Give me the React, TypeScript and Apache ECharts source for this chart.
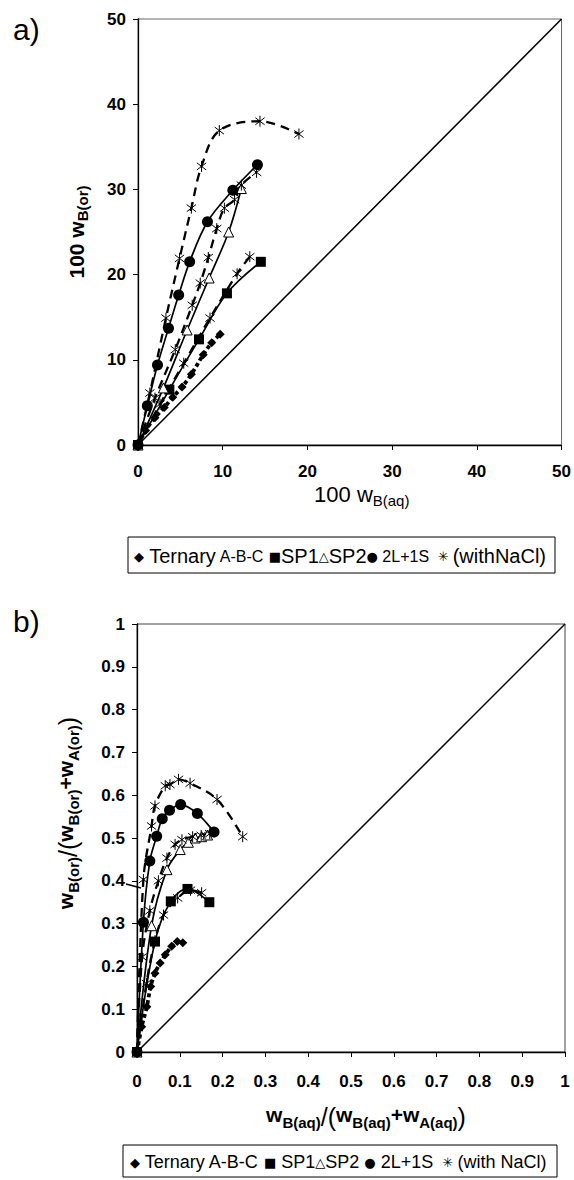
import React, { useEffect, useRef } from "react";
import * as echarts from "echarts";

// ---------- data: plot a) 100 w_B(aq) vs 100 w_B(or) ----------
const aTernary = [[0, 0], [0.9, 1.7], [2.0, 3.2], [3.1, 4.4], [4.1, 5.6], [5.2, 6.8], [6.3, 8.3], [7.7, 10.6], [8.7, 12.0], [9.7, 13.0]];
const aSP1 = [[0, 0], [3.7, 6.5], [7.2, 12.4], [10.5, 17.8], [14.5, 21.5]];
const aSP2 = [[0, 0], [3.0, 6.7], [5.8, 13.5], [8.4, 19.6], [10.7, 25.0], [12.2, 30.1]];
const a2L1S = [[0, 0], [1.1, 4.6], [2.3, 9.4], [3.6, 13.7], [4.8, 17.6], [6.1, 21.5], [8.2, 26.2], [11.2, 29.9], [14.1, 32.9]];
const aNaCl1 = [[0, 0], [1.4, 6.1], [3.3, 14.9], [4.9, 21.9], [6.3, 27.8], [7.5, 32.7], [9.6, 36.9], [14.4, 38.0], [19.0, 36.5]];
const aNaCl2 = [[0, 0], [2.0, 5.5], [4.4, 11.2], [6.4, 16.4], [7.35, 19.0], [8.3, 22.0], [9.3, 25.4], [10.2, 27.8], [11.4, 28.8], [12.2, 30.5], [14.0, 32.0]];
const aNaCl3 = [[0, 0], [2.6, 4.8], [5.4, 9.6], [8.5, 14.9], [11.7, 20.1], [13.2, 22.1]];
const aDiagonal = [[0, 0], [50, 50]];

// ---------- data: plot b) mass-fraction ratios ----------
const bTernary = [[0, 0], [0.011, 0.059], [0.023, 0.106], [0.032, 0.153], [0.042, 0.184], [0.054, 0.208], [0.066, 0.227], [0.081, 0.247], [0.094, 0.258], [0.107, 0.255]];
const bSP1 = [[0, 0], [0.042, 0.258], [0.079, 0.352], [0.118, 0.381], [0.169, 0.35]];
const bSP2 = [[0, 0], [0.034, 0.295], [0.07, 0.426], [0.101, 0.473], [0.12, 0.49], [0.136, 0.5], [0.151, 0.503], [0.165, 0.507]];
const b2L1S = [[0, 0], [0.015, 0.303], [0.03, 0.446], [0.046, 0.504], [0.059, 0.545], [0.076, 0.565], [0.102, 0.578], [0.141, 0.557], [0.18, 0.514]];
const bNaCl1 = [[0, 0], [0.015, 0.403], [0.034, 0.528], [0.042, 0.575], [0.066, 0.622], [0.077, 0.625], [0.097, 0.637], [0.124, 0.628], [0.187, 0.59], [0.247, 0.503]];
const bNaCl2 = [[0, 0], [0.012, 0.222], [0.03, 0.33], [0.05, 0.4], [0.07, 0.453], [0.089, 0.485], [0.105, 0.496], [0.13, 0.503], [0.15, 0.506], [0.17, 0.51]];
const bNaCl3 = [[0, 0], [0.022, 0.16], [0.042, 0.26], [0.062, 0.32], [0.095, 0.36], [0.125, 0.378], [0.151, 0.372]];
const bDiagonal = [[0, 0], [1, 1]];

const FONT = "'Liberation Sans', Arial, sans-serif";
const STAR = "path://M5 0L5 10M0.8 1.8L9.2 8.2M0.8 8.2L9.2 1.8";

type Kind = "ternary" | "sp1" | "sp2" | "l2s1" | "nacl" | "diag";

function mk(name: string, data: number[][], gi: number, kind: Kind) {
  const base: any = {
    name,
    type: "line",
    xAxisIndex: gi,
    yAxisIndex: gi,
    data,
    smooth: 0.35,
    lineStyle: { color: "#000", width: 1.7 },
    itemStyle: { color: "#000" },
    symbolKeepAspect: true,
    emphasis: { disabled: true },
    z: 3,
  };
  if (kind === "ternary") {
    base.symbol = "diamond";
    base.symbolSize = 9;
    base.lineStyle = { color: "#000", width: 3.8, type: [4, 3] };
  } else if (kind === "sp1") {
    base.symbol = "rect";
    base.symbolSize = 10;
  } else if (kind === "sp2") {
    base.symbol = "triangle";
    base.symbolSize = 10;
    base.itemStyle = { color: "#fff", borderColor: "#000", borderWidth: 1 };
  } else if (kind === "l2s1") {
    base.symbol = "circle";
    base.symbolSize = 11;
  } else if (kind === "nacl") {
    base.symbol = STAR;
    base.symbolSize = 11;
    base.itemStyle = { color: "none", borderColor: "#000", borderWidth: 1 };
    base.lineStyle = { color: "#000", width: 2.3, type: [9, 6] };
  } else {
    base.symbol = "none";
    base.smooth = false;
    base.lineStyle = { color: "#000", width: 1.5 };
    base.z = 2;
  }
  return base;
}

const subRich = {
  m: { fontFamily: FONT, fontSize: 21, fontWeight: "bold", color: "#000", verticalAlign: "top", lineHeight: 24 },
  mr: { fontFamily: FONT, fontSize: 22, fontWeight: "normal", color: "#000", verticalAlign: "top", lineHeight: 24 },
  p: { fontFamily: FONT, fontSize: 25, fontWeight: "normal", color: "#000", verticalAlign: "top", lineHeight: 26 },
  s: { fontFamily: FONT, fontSize: 15, fontWeight: "bold", color: "#000", verticalAlign: "bottom", lineHeight: 16, padding: [12, 0, 0, 0] },
  sr: { fontFamily: FONT, fontSize: 15, fontWeight: "normal", color: "#000", verticalAlign: "bottom", lineHeight: 16, padding: [12, 0, 0, 0] },
};

function axisCommon() {
  return {
    type: "value",
    axisLine: { show: true, lineStyle: { color: "#000", width: 1.3 } },
    axisTick: { show: true, length: 5, lineStyle: { color: "#000", width: 1 } },
    splitLine: { show: false },
    nameLocation: "middle",
  };
}

const fmt1 = (v: number) => (v === 0 ? "0" : v === 1 ? "1" : v.toFixed(1));

export default function App() {
  const ref = useRef<HTMLDivElement>(null);
  useEffect(() => {
    if (!ref.current) return;
    const chart = echarts.init(ref.current, undefined, { renderer: "svg" });
    const legendRich = {
      sym: { fontFamily: "'DejaVu Sans'", fontSize: 13, fill: "#000", color: "#000" },
      t: { fontFamily: FONT, fontSize: 20, fill: "#000", color: "#000" },
      t2: { fontFamily: FONT, fontSize: 18, fill: "#000", color: "#000" },
      sm: { fontFamily: FONT, fontSize: 16, fill: "#000", color: "#000" },
    };
    const option: any = {
      animation: false,
      backgroundColor: "#fff",
      grid: [
        { left: 138, top: 19, width: 426, height: 426, show: true, borderColor: "#666", borderWidth: 1, backgroundColor: "transparent" },
        { left: 137, top: 624, width: 428, height: 428, show: true, borderColor: "#444", borderWidth: 1, backgroundColor: "transparent" },
      ],
      xAxis: [
        {
          ...axisCommon(),
          gridIndex: 0,
          min: 0,
          max: 50,
          interval: 10,
          axisLabel: { fontFamily: FONT, fontSize: 17, fontWeight: "bold", color: "#000", margin: 18 },
          name: "{mr|100 w}{sr|B(aq)}",
          nameGap: 32,
          nameTextStyle: { rich: subRich, padding: [0, 0, 0, 24] },
        },
        {
          ...axisCommon(),
          gridIndex: 1,
          min: 0,
          max: 1,
          interval: 0.1,
          axisLabel: { fontFamily: FONT, fontSize: 17, fontWeight: "bold", color: "#000", margin: 21, formatter: fmt1 },
          name: "{m|w}{s|B(aq)}{p|/(}{m|w}{s|B(aq)}{m|+w}{s|A(aq)}{p|)}",
          nameGap: 52,
          nameTextStyle: { rich: subRich, padding: [0, 0, 0, 30] },
        },
      ],
      yAxis: [
        {
          ...axisCommon(),
          gridIndex: 0,
          min: 0,
          max: 50,
          interval: 10,
          axisLabel: { fontFamily: FONT, fontSize: 17, fontWeight: "bold", color: "#000", margin: 12 },
          name: "{m|100 w}{s|B(or)}",
          nameGap: 48,
          nameTextStyle: { rich: subRich },
        },
        {
          ...axisCommon(),
          gridIndex: 1,
          min: 0,
          max: 1,
          interval: 0.1,
          axisLabel: { fontFamily: FONT, fontSize: 17, fontWeight: "bold", color: "#000", margin: 12, formatter: fmt1 },
          name: "{m|w}{s|B(or)}{p|/(}{m|w}{s|B(or)}{m|+w}{s|A(or)}{p|)}",
          nameGap: 56,
          nameTextStyle: { rich: subRich, padding: [0, 0, 0, 50] },
        },
      ],
      series: [
        mk("diagA", aDiagonal, 0, "diag"),
        mk("Ternary A-B-C", aTernary, 0, "ternary"),
        mk("SP1", aSP1, 0, "sp1"),
        mk("SP2", aSP2, 0, "sp2"),
        mk("2L+1S", a2L1S, 0, "l2s1"),
        mk("(with NaCl)", aNaCl1, 0, "nacl"),
        mk("(with NaCl)", aNaCl2, 0, "nacl"),
        mk("(with NaCl)", aNaCl3, 0, "nacl"),
        mk("diagB", bDiagonal, 1, "diag"),
        mk("Ternary A-B-C", bTernary, 1, "ternary"),
        mk("SP1", bSP1, 1, "sp1"),
        mk("SP2", bSP2, 1, "sp2"),
        mk("2L+1S", b2L1S, 1, "l2s1"),
        mk("(with NaCl)", bNaCl1, 1, "nacl"),
        mk("(with NaCl)", bNaCl2, 1, "nacl"),
        mk("(with NaCl)", bNaCl3, 1, "nacl"),
      ],
      graphic: [
        { type: "text", left: 13, top: 14, style: { text: "a)", font: `30px ${FONT}`, fill: "#000" } },
        { type: "text", left: 13, top: 606, style: { text: "b)", font: `30px ${FONT}`, fill: "#000" } },
        { type: "line", shape: { x1: 126, y1: 884, x2: 141, y2: 888 }, style: { stroke: "#000", lineWidth: 1.5 } },
        { type: "rect", shape: { x: 128, y: 537, width: 427, height: 36 }, style: { fill: "none", stroke: "#000", lineWidth: 1 } },
        {
          type: "text",
          x: 134,
          y: 556,
          style: {
            text: "{sym|◆}{t| Ternary}{sm| A-B-C }{sym|■}{t|SP1}{sym|△}{t|SP2}{sym|●}{sm| 2L+1S }{sym| ✳ }{t|(withNaCl)}",
            rich: legendRich,
            verticalAlign: "middle",
            fill: "#000",
          },
        },
        { type: "rect", shape: { x: 123, y: 1145, width: 434, height: 32 }, style: { fill: "none", stroke: "#000", lineWidth: 1 } },
        {
          type: "text",
          x: 130,
          y: 1162,
          style: {
            text: "{sym|◆}{t2| Ternary A-B-C }{sym|■}{t2| SP1}{sym|△}{t2|SP2 }{sym|●}{t2| 2L+1S }{sym| ✳ }{t2|(with NaCl)}",
            rich: legendRich,
            verticalAlign: "middle",
            fill: "#000",
          },
        },
      ],
    };
    chart.setOption(option);
    return () => chart.dispose();
  }, []);
  return (
    <div
      ref={ref}
      style={{ position: "absolute", left: 0, top: 0, width: 574, height: 1180, background: "#fff" }}
    />
  );
}
